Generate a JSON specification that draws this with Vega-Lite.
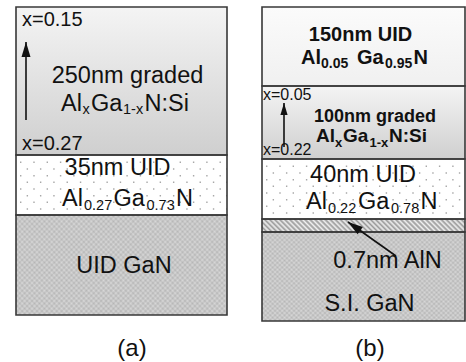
{
  "$schema": "https://vega.github.io/schema/vega-lite/v6.json",
  "width": 466,
  "height": 362,
  "padding": 0,
  "autosize": {"type": "fit", "contains": "padding"},
  "background": "white",
  "config": {"view": {"stroke": null}},
  "datasets": {
    "layers": [
      {"panel": "a", "name": "250nm graded AlGaN:Si", "kind": "graded", "x": 16, "x2": 227, "y": 7, "y2": 155},
      {"panel": "a", "name": "35nm UID Al0.27Ga0.73N", "kind": "dotted", "x": 16, "x2": 227, "y": 155, "y2": 215},
      {"panel": "a", "name": "UID GaN", "kind": "substrate", "x": 16, "x2": 227, "y": 215, "y2": 315},
      {"panel": "b", "name": "150nm UID Al0.05Ga0.95N", "kind": "plain", "x": 262, "x2": 465, "y": 7, "y2": 86},
      {"panel": "b", "name": "100nm graded AlGaN:Si", "kind": "graded", "x": 262, "x2": 465, "y": 86, "y2": 159},
      {"panel": "b", "name": "40nm UID Al0.22Ga0.78N", "kind": "dotted", "x": 262, "x2": 465, "y": 159, "y2": 219},
      {"panel": "b", "name": "0.7nm AlN", "kind": "interlayer", "x": 262, "x2": 465, "y": 219, "y2": 232},
      {"panel": "b", "name": "S.I. GaN", "kind": "substrate", "x": 262, "x2": 465, "y": 232, "y2": 321}
    ],
    "labels": [
      {"text": "x=0.15", "x": 22, "y": 26, "role": "noteA"},
      {"text": "250nm graded", "x": 127.5, "y": 83, "role": "name"},
      {"text": "Al", "x": 61, "y": 111, "role": "formula"},
      {"text": "x", "x": 82.5, "y": 114, "role": "formulaSub"},
      {"text": "Ga", "x": 91, "y": 111, "role": "formula"},
      {"text": "1-x", "x": 123, "y": 114, "role": "formulaSub"},
      {"text": "N:Si", "x": 144.5, "y": 111, "role": "formula"},
      {"text": "x=0.27", "x": 22, "y": 150, "role": "noteA"},
      {"text": "35nm UID", "x": 117.5, "y": 175, "role": "name"},
      {"text": "Al", "x": 62, "y": 206, "role": "formula"},
      {"text": "0.27", "x": 84, "y": 210, "role": "formulaSub"},
      {"text": "Ga", "x": 113.5, "y": 206, "role": "formula"},
      {"text": "0.73", "x": 146.5, "y": 210, "role": "formulaSub"},
      {"text": "N", "x": 176, "y": 206, "role": "formula"},
      {"text": "UID GaN", "x": 124, "y": 273, "role": "name"},
      {"text": "(a)", "x": 132, "y": 356, "role": "caption"},
      {"text": "150nm UID", "x": 360.5, "y": 41, "role": "boldTitle"},
      {"text": "Al", "x": 301, "y": 64, "role": "boldFormula"},
      {"text": "0.05", "x": 321, "y": 68, "role": "boldSub"},
      {"text": "Ga", "x": 357, "y": 64, "role": "boldFormula"},
      {"text": "0.95", "x": 385, "y": 68, "role": "boldSub"},
      {"text": "N", "x": 413.5, "y": 64, "role": "boldFormula"},
      {"text": "x=0.05", "x": 263, "y": 100, "role": "noteB"},
      {"text": "100nm graded", "x": 375, "y": 122, "role": "boldTitleSmall"},
      {"text": "Al", "x": 316, "y": 142, "role": "boldFormulaSmall"},
      {"text": "x", "x": 335, "y": 146.5, "role": "boldSubSmall"},
      {"text": "Ga", "x": 343, "y": 142, "role": "boldFormulaSmall"},
      {"text": "1-x", "x": 369.5, "y": 146.5, "role": "boldSubSmall"},
      {"text": "N:Si", "x": 389, "y": 142, "role": "boldFormulaSmall"},
      {"text": "x=0.22", "x": 263, "y": 155, "role": "noteB"},
      {"text": "40nm UID", "x": 363, "y": 182, "role": "name"},
      {"text": "Al", "x": 306, "y": 209, "role": "formula"},
      {"text": "0.22", "x": 328, "y": 213, "role": "formulaSub"},
      {"text": "Ga", "x": 358, "y": 209, "role": "formula"},
      {"text": "0.78", "x": 391, "y": 213, "role": "formulaSub"},
      {"text": "N", "x": 420.5, "y": 209, "role": "formula"},
      {"text": "0.7nm AlN", "x": 387.5, "y": 268, "role": "name"},
      {"text": "S.I. GaN", "x": 369.5, "y": 311, "role": "name"},
      {"text": "(b)", "x": 370, "y": 356, "role": "caption"}
    ],
    "arrows": [
      {"id": "gradingA", "x": 26, "y": 42, "x2": 26, "y2": 120},
      {"id": "gradingB", "x": 284, "y": 103, "x2": 284, "y2": 147},
      {"id": "interlayer", "x": 348, "y": 222, "x2": 396, "y2": 256}
    ]
  },
  "encoding": {
    "x": {"field": "x", "type": "quantitative", "scale": {"domain": [0, 466], "nice": false, "zero": false}, "axis": null},
    "y": {"field": "y", "type": "quantitative", "scale": {"domain": [0, 362], "nice": false, "zero": false, "reverse": true}, "axis": null}
  },
  "layer": [
    {
      "data": {"name": "layers"},
      "transform": [{"filter": "datum.kind === 'graded'"}],
      "mark": {"type": "rect", "fill": {"gradient": "linear", "x1": 0, "y1": 0, "x2": 0, "y2": 1, "stops": [{"offset": 0, "color": "#f4f4f4"}, {"offset": 1, "color": "#cfcfcf"}]}},
      "encoding": {"x2": {"field": "x2"}, "y2": {"field": "y2"}}
    },
    {
      "data": {"name": "layers"},
      "transform": [{"filter": "datum.kind === 'plain'"}],
      "mark": {"type": "rect", "fill": {"gradient": "linear", "x1": 0, "y1": 0, "x2": 0, "y2": 1, "stops": [{"offset": 0, "color": "#fbfbfb"}, {"offset": 1, "color": "#f0f0f0"}]}},
      "encoding": {"x2": {"field": "x2"}, "y2": {"field": "y2"}}
    },
    {
      "data": {"name": "layers"},
      "transform": [{"filter": "datum.kind === 'dotted'"}],
      "mark": {"type": "rect", "fill": "#ffffff"},
      "encoding": {"x2": {"field": "x2"}, "y2": {"field": "y2"}}
    },
    {
      "data": {"name": "layers"},
      "transform": [{"filter": "datum.kind === 'substrate'"}],
      "mark": {"type": "rect", "fill": {"gradient": "linear", "x1": 0, "y1": 0, "x2": 1.21, "y2": 0.552, "stops": [
        {"offset": 0, "color": "#b6b6b6"}, {"offset": 0.008, "color": "#d8d8d8"}, {"offset": 0.016, "color": "#b6b6b6"}, {"offset": 0.024, "color": "#d8d8d8"},
        {"offset": 0.032, "color": "#b6b6b6"}, {"offset": 0.04, "color": "#d8d8d8"}, {"offset": 0.048, "color": "#b6b6b6"}, {"offset": 0.056, "color": "#d8d8d8"},
        {"offset": 0.064, "color": "#b6b6b6"}, {"offset": 0.072, "color": "#d8d8d8"}, {"offset": 0.08, "color": "#b6b6b6"}, {"offset": 0.088, "color": "#d8d8d8"},
        {"offset": 0.096, "color": "#b6b6b6"}, {"offset": 0.104, "color": "#d8d8d8"}, {"offset": 0.112, "color": "#b6b6b6"}, {"offset": 0.12, "color": "#d8d8d8"},
        {"offset": 0.128, "color": "#b6b6b6"}, {"offset": 0.136, "color": "#d8d8d8"}, {"offset": 0.144, "color": "#b6b6b6"}, {"offset": 0.152, "color": "#d8d8d8"},
        {"offset": 0.16, "color": "#b6b6b6"}, {"offset": 0.168, "color": "#d8d8d8"}, {"offset": 0.176, "color": "#b6b6b6"}, {"offset": 0.184, "color": "#d8d8d8"},
        {"offset": 0.192, "color": "#b6b6b6"}, {"offset": 0.2, "color": "#d8d8d8"}, {"offset": 0.208, "color": "#b6b6b6"}, {"offset": 0.216, "color": "#d8d8d8"},
        {"offset": 0.224, "color": "#b6b6b6"}, {"offset": 0.232, "color": "#d8d8d8"}, {"offset": 0.24, "color": "#b6b6b6"}, {"offset": 0.248, "color": "#d8d8d8"},
        {"offset": 0.256, "color": "#b6b6b6"}, {"offset": 0.264, "color": "#d8d8d8"}, {"offset": 0.272, "color": "#b6b6b6"}, {"offset": 0.28, "color": "#d8d8d8"},
        {"offset": 0.288, "color": "#b6b6b6"}, {"offset": 0.296, "color": "#d8d8d8"}, {"offset": 0.304, "color": "#b6b6b6"}, {"offset": 0.312, "color": "#d8d8d8"},
        {"offset": 0.32, "color": "#b6b6b6"}, {"offset": 0.328, "color": "#d8d8d8"}, {"offset": 0.336, "color": "#b6b6b6"}, {"offset": 0.344, "color": "#d8d8d8"},
        {"offset": 0.352, "color": "#b6b6b6"}, {"offset": 0.36, "color": "#d8d8d8"}, {"offset": 0.368, "color": "#b6b6b6"}, {"offset": 0.376, "color": "#d8d8d8"},
        {"offset": 0.384, "color": "#b6b6b6"}, {"offset": 0.392, "color": "#d8d8d8"}, {"offset": 0.4, "color": "#b6b6b6"}, {"offset": 0.408, "color": "#d8d8d8"},
        {"offset": 0.416, "color": "#b6b6b6"}, {"offset": 0.424, "color": "#d8d8d8"}, {"offset": 0.432, "color": "#b6b6b6"}, {"offset": 0.44, "color": "#d8d8d8"},
        {"offset": 0.448, "color": "#b6b6b6"}, {"offset": 0.456, "color": "#d8d8d8"}, {"offset": 0.464, "color": "#b6b6b6"}, {"offset": 0.472, "color": "#d8d8d8"},
        {"offset": 0.48, "color": "#b6b6b6"}, {"offset": 0.488, "color": "#d8d8d8"}, {"offset": 0.496, "color": "#b6b6b6"}, {"offset": 0.504, "color": "#d8d8d8"},
        {"offset": 0.512, "color": "#b6b6b6"}, {"offset": 0.52, "color": "#d8d8d8"}, {"offset": 0.528, "color": "#b6b6b6"}, {"offset": 0.536, "color": "#d8d8d8"},
        {"offset": 0.544, "color": "#b6b6b6"}, {"offset": 0.552, "color": "#d8d8d8"}, {"offset": 0.56, "color": "#b6b6b6"}, {"offset": 0.568, "color": "#d8d8d8"},
        {"offset": 0.576, "color": "#b6b6b6"}, {"offset": 0.584, "color": "#d8d8d8"}, {"offset": 0.592, "color": "#b6b6b6"}, {"offset": 0.6, "color": "#d8d8d8"},
        {"offset": 0.608, "color": "#b6b6b6"}, {"offset": 0.616, "color": "#d8d8d8"}, {"offset": 0.624, "color": "#b6b6b6"}, {"offset": 0.632, "color": "#d8d8d8"},
        {"offset": 0.64, "color": "#b6b6b6"}, {"offset": 0.648, "color": "#d8d8d8"}, {"offset": 0.656, "color": "#b6b6b6"}, {"offset": 0.664, "color": "#d8d8d8"},
        {"offset": 0.672, "color": "#b6b6b6"}, {"offset": 0.68, "color": "#d8d8d8"}, {"offset": 0.688, "color": "#b6b6b6"}, {"offset": 0.696, "color": "#d8d8d8"},
        {"offset": 0.704, "color": "#b6b6b6"}, {"offset": 0.712, "color": "#d8d8d8"}, {"offset": 0.72, "color": "#b6b6b6"}, {"offset": 0.728, "color": "#d8d8d8"},
        {"offset": 0.736, "color": "#b6b6b6"}, {"offset": 0.744, "color": "#d8d8d8"}, {"offset": 0.752, "color": "#b6b6b6"}, {"offset": 0.76, "color": "#d8d8d8"},
        {"offset": 0.768, "color": "#b6b6b6"}, {"offset": 0.776, "color": "#d8d8d8"}, {"offset": 0.784, "color": "#b6b6b6"}, {"offset": 0.792, "color": "#d8d8d8"},
        {"offset": 0.8, "color": "#b6b6b6"}, {"offset": 0.808, "color": "#d8d8d8"}, {"offset": 0.816, "color": "#b6b6b6"}, {"offset": 0.824, "color": "#d8d8d8"},
        {"offset": 0.832, "color": "#b6b6b6"}, {"offset": 0.84, "color": "#d8d8d8"}, {"offset": 0.848, "color": "#b6b6b6"}, {"offset": 0.856, "color": "#d8d8d8"},
        {"offset": 0.864, "color": "#b6b6b6"}, {"offset": 0.872, "color": "#d8d8d8"}, {"offset": 0.88, "color": "#b6b6b6"}, {"offset": 0.888, "color": "#d8d8d8"},
        {"offset": 0.896, "color": "#b6b6b6"}, {"offset": 0.904, "color": "#d8d8d8"}, {"offset": 0.912, "color": "#b6b6b6"}, {"offset": 0.92, "color": "#d8d8d8"},
        {"offset": 0.928, "color": "#b6b6b6"}, {"offset": 0.936, "color": "#d8d8d8"}, {"offset": 0.944, "color": "#b6b6b6"}, {"offset": 0.952, "color": "#d8d8d8"},
        {"offset": 0.96, "color": "#b6b6b6"}, {"offset": 0.968, "color": "#d8d8d8"}, {"offset": 0.976, "color": "#b6b6b6"}, {"offset": 0.984, "color": "#d8d8d8"},
        {"offset": 0.992, "color": "#b6b6b6"}, {"offset": 1, "color": "#d8d8d8"}
      ]}},
      "encoding": {"x2": {"field": "x2"}, "y2": {"field": "y2"}}
    },
    {
      "data": {"name": "layers"},
      "transform": [{"filter": "datum.kind === 'substrate'"}],
      "mark": {"type": "rect", "fillOpacity": 0.5, "fill": {"gradient": "linear", "x1": 0, "y1": 1, "x2": 1.21, "y2": 0.448, "stops": [
        {"offset": 0, "color": "#b6b6b6"}, {"offset": 0.008, "color": "#d8d8d8"}, {"offset": 0.016, "color": "#b6b6b6"}, {"offset": 0.024, "color": "#d8d8d8"},
        {"offset": 0.032, "color": "#b6b6b6"}, {"offset": 0.04, "color": "#d8d8d8"}, {"offset": 0.048, "color": "#b6b6b6"}, {"offset": 0.056, "color": "#d8d8d8"},
        {"offset": 0.064, "color": "#b6b6b6"}, {"offset": 0.072, "color": "#d8d8d8"}, {"offset": 0.08, "color": "#b6b6b6"}, {"offset": 0.088, "color": "#d8d8d8"},
        {"offset": 0.096, "color": "#b6b6b6"}, {"offset": 0.104, "color": "#d8d8d8"}, {"offset": 0.112, "color": "#b6b6b6"}, {"offset": 0.12, "color": "#d8d8d8"},
        {"offset": 0.128, "color": "#b6b6b6"}, {"offset": 0.136, "color": "#d8d8d8"}, {"offset": 0.144, "color": "#b6b6b6"}, {"offset": 0.152, "color": "#d8d8d8"},
        {"offset": 0.16, "color": "#b6b6b6"}, {"offset": 0.168, "color": "#d8d8d8"}, {"offset": 0.176, "color": "#b6b6b6"}, {"offset": 0.184, "color": "#d8d8d8"},
        {"offset": 0.192, "color": "#b6b6b6"}, {"offset": 0.2, "color": "#d8d8d8"}, {"offset": 0.208, "color": "#b6b6b6"}, {"offset": 0.216, "color": "#d8d8d8"},
        {"offset": 0.224, "color": "#b6b6b6"}, {"offset": 0.232, "color": "#d8d8d8"}, {"offset": 0.24, "color": "#b6b6b6"}, {"offset": 0.248, "color": "#d8d8d8"},
        {"offset": 0.256, "color": "#b6b6b6"}, {"offset": 0.264, "color": "#d8d8d8"}, {"offset": 0.272, "color": "#b6b6b6"}, {"offset": 0.28, "color": "#d8d8d8"},
        {"offset": 0.288, "color": "#b6b6b6"}, {"offset": 0.296, "color": "#d8d8d8"}, {"offset": 0.304, "color": "#b6b6b6"}, {"offset": 0.312, "color": "#d8d8d8"},
        {"offset": 0.32, "color": "#b6b6b6"}, {"offset": 0.328, "color": "#d8d8d8"}, {"offset": 0.336, "color": "#b6b6b6"}, {"offset": 0.344, "color": "#d8d8d8"},
        {"offset": 0.352, "color": "#b6b6b6"}, {"offset": 0.36, "color": "#d8d8d8"}, {"offset": 0.368, "color": "#b6b6b6"}, {"offset": 0.376, "color": "#d8d8d8"},
        {"offset": 0.384, "color": "#b6b6b6"}, {"offset": 0.392, "color": "#d8d8d8"}, {"offset": 0.4, "color": "#b6b6b6"}, {"offset": 0.408, "color": "#d8d8d8"},
        {"offset": 0.416, "color": "#b6b6b6"}, {"offset": 0.424, "color": "#d8d8d8"}, {"offset": 0.432, "color": "#b6b6b6"}, {"offset": 0.44, "color": "#d8d8d8"},
        {"offset": 0.448, "color": "#b6b6b6"}, {"offset": 0.456, "color": "#d8d8d8"}, {"offset": 0.464, "color": "#b6b6b6"}, {"offset": 0.472, "color": "#d8d8d8"},
        {"offset": 0.48, "color": "#b6b6b6"}, {"offset": 0.488, "color": "#d8d8d8"}, {"offset": 0.496, "color": "#b6b6b6"}, {"offset": 0.504, "color": "#d8d8d8"},
        {"offset": 0.512, "color": "#b6b6b6"}, {"offset": 0.52, "color": "#d8d8d8"}, {"offset": 0.528, "color": "#b6b6b6"}, {"offset": 0.536, "color": "#d8d8d8"},
        {"offset": 0.544, "color": "#b6b6b6"}, {"offset": 0.552, "color": "#d8d8d8"}, {"offset": 0.56, "color": "#b6b6b6"}, {"offset": 0.568, "color": "#d8d8d8"},
        {"offset": 0.576, "color": "#b6b6b6"}, {"offset": 0.584, "color": "#d8d8d8"}, {"offset": 0.592, "color": "#b6b6b6"}, {"offset": 0.6, "color": "#d8d8d8"},
        {"offset": 0.608, "color": "#b6b6b6"}, {"offset": 0.616, "color": "#d8d8d8"}, {"offset": 0.624, "color": "#b6b6b6"}, {"offset": 0.632, "color": "#d8d8d8"},
        {"offset": 0.64, "color": "#b6b6b6"}, {"offset": 0.648, "color": "#d8d8d8"}, {"offset": 0.656, "color": "#b6b6b6"}, {"offset": 0.664, "color": "#d8d8d8"},
        {"offset": 0.672, "color": "#b6b6b6"}, {"offset": 0.68, "color": "#d8d8d8"}, {"offset": 0.688, "color": "#b6b6b6"}, {"offset": 0.696, "color": "#d8d8d8"},
        {"offset": 0.704, "color": "#b6b6b6"}, {"offset": 0.712, "color": "#d8d8d8"}, {"offset": 0.72, "color": "#b6b6b6"}, {"offset": 0.728, "color": "#d8d8d8"},
        {"offset": 0.736, "color": "#b6b6b6"}, {"offset": 0.744, "color": "#d8d8d8"}, {"offset": 0.752, "color": "#b6b6b6"}, {"offset": 0.76, "color": "#d8d8d8"},
        {"offset": 0.768, "color": "#b6b6b6"}, {"offset": 0.776, "color": "#d8d8d8"}, {"offset": 0.784, "color": "#b6b6b6"}, {"offset": 0.792, "color": "#d8d8d8"},
        {"offset": 0.8, "color": "#b6b6b6"}, {"offset": 0.808, "color": "#d8d8d8"}, {"offset": 0.816, "color": "#b6b6b6"}, {"offset": 0.824, "color": "#d8d8d8"},
        {"offset": 0.832, "color": "#b6b6b6"}, {"offset": 0.84, "color": "#d8d8d8"}, {"offset": 0.848, "color": "#b6b6b6"}, {"offset": 0.856, "color": "#d8d8d8"},
        {"offset": 0.864, "color": "#b6b6b6"}, {"offset": 0.872, "color": "#d8d8d8"}, {"offset": 0.88, "color": "#b6b6b6"}, {"offset": 0.888, "color": "#d8d8d8"},
        {"offset": 0.896, "color": "#b6b6b6"}, {"offset": 0.904, "color": "#d8d8d8"}, {"offset": 0.912, "color": "#b6b6b6"}, {"offset": 0.92, "color": "#d8d8d8"},
        {"offset": 0.928, "color": "#b6b6b6"}, {"offset": 0.936, "color": "#d8d8d8"}, {"offset": 0.944, "color": "#b6b6b6"}, {"offset": 0.952, "color": "#d8d8d8"},
        {"offset": 0.96, "color": "#b6b6b6"}, {"offset": 0.968, "color": "#d8d8d8"}, {"offset": 0.976, "color": "#b6b6b6"}, {"offset": 0.984, "color": "#d8d8d8"},
        {"offset": 0.992, "color": "#b6b6b6"}, {"offset": 1, "color": "#d8d8d8"}
      ]}},
      "encoding": {"x2": {"field": "x2"}, "y2": {"field": "y2"}}
    },
    {
      "data": {"name": "layers"},
      "transform": [{"filter": "datum.kind === 'interlayer'"}],
      "mark": {"type": "rect", "fill": {"gradient": "linear", "x1": 0, "y1": 1, "x2": 1.1, "y2": 0.9296, "stops": [
        {"offset": 0, "color": "#999999"}, {"offset": 0.01125, "color": "#f0f0f0"},
        {"offset": 0.0225, "color": "#999999"}, {"offset": 0.03375, "color": "#f0f0f0"},
        {"offset": 0.045, "color": "#999999"}, {"offset": 0.05625, "color": "#f0f0f0"},
        {"offset": 0.0675, "color": "#999999"}, {"offset": 0.07875, "color": "#f0f0f0"},
        {"offset": 0.09, "color": "#999999"}, {"offset": 0.10125, "color": "#f0f0f0"},
        {"offset": 0.1125, "color": "#999999"}, {"offset": 0.12375, "color": "#f0f0f0"},
        {"offset": 0.135, "color": "#999999"}, {"offset": 0.14625, "color": "#f0f0f0"},
        {"offset": 0.1575, "color": "#999999"}, {"offset": 0.16875, "color": "#f0f0f0"},
        {"offset": 0.18, "color": "#999999"}, {"offset": 0.19125, "color": "#f0f0f0"},
        {"offset": 0.2025, "color": "#999999"}, {"offset": 0.21375, "color": "#f0f0f0"},
        {"offset": 0.225, "color": "#999999"}, {"offset": 0.23625, "color": "#f0f0f0"},
        {"offset": 0.2475, "color": "#999999"}, {"offset": 0.25875, "color": "#f0f0f0"},
        {"offset": 0.27, "color": "#999999"}, {"offset": 0.28125, "color": "#f0f0f0"},
        {"offset": 0.2925, "color": "#999999"}, {"offset": 0.30375, "color": "#f0f0f0"},
        {"offset": 0.315, "color": "#999999"}, {"offset": 0.32625, "color": "#f0f0f0"},
        {"offset": 0.3375, "color": "#999999"}, {"offset": 0.34875, "color": "#f0f0f0"},
        {"offset": 0.36, "color": "#999999"}, {"offset": 0.37125, "color": "#f0f0f0"},
        {"offset": 0.3825, "color": "#999999"}, {"offset": 0.39375, "color": "#f0f0f0"},
        {"offset": 0.405, "color": "#999999"}, {"offset": 0.41625, "color": "#f0f0f0"},
        {"offset": 0.4275, "color": "#999999"}, {"offset": 0.43875, "color": "#f0f0f0"},
        {"offset": 0.45, "color": "#999999"}, {"offset": 0.46125, "color": "#f0f0f0"},
        {"offset": 0.4725, "color": "#999999"}, {"offset": 0.48375, "color": "#f0f0f0"},
        {"offset": 0.495, "color": "#999999"}, {"offset": 0.50625, "color": "#f0f0f0"},
        {"offset": 0.5175, "color": "#999999"}, {"offset": 0.52875, "color": "#f0f0f0"},
        {"offset": 0.54, "color": "#999999"}, {"offset": 0.55125, "color": "#f0f0f0"},
        {"offset": 0.5625, "color": "#999999"}, {"offset": 0.57375, "color": "#f0f0f0"},
        {"offset": 0.585, "color": "#999999"}, {"offset": 0.59625, "color": "#f0f0f0"},
        {"offset": 0.6075, "color": "#999999"}, {"offset": 0.61875, "color": "#f0f0f0"},
        {"offset": 0.63, "color": "#999999"}, {"offset": 0.64125, "color": "#f0f0f0"},
        {"offset": 0.6525, "color": "#999999"}, {"offset": 0.66375, "color": "#f0f0f0"},
        {"offset": 0.675, "color": "#999999"}, {"offset": 0.68625, "color": "#f0f0f0"},
        {"offset": 0.6975, "color": "#999999"}, {"offset": 0.70875, "color": "#f0f0f0"},
        {"offset": 0.72, "color": "#999999"}, {"offset": 0.73125, "color": "#f0f0f0"},
        {"offset": 0.7425, "color": "#999999"}, {"offset": 0.75375, "color": "#f0f0f0"},
        {"offset": 0.765, "color": "#999999"}, {"offset": 0.77625, "color": "#f0f0f0"},
        {"offset": 0.7875, "color": "#999999"}, {"offset": 0.79875, "color": "#f0f0f0"},
        {"offset": 0.81, "color": "#999999"}, {"offset": 0.82125, "color": "#f0f0f0"},
        {"offset": 0.8325, "color": "#999999"}, {"offset": 0.84375, "color": "#f0f0f0"},
        {"offset": 0.855, "color": "#999999"}, {"offset": 0.86625, "color": "#f0f0f0"},
        {"offset": 0.8775, "color": "#999999"}, {"offset": 0.88875, "color": "#f0f0f0"},
        {"offset": 0.9, "color": "#999999"}, {"offset": 0.91125, "color": "#f0f0f0"},
        {"offset": 0.9225, "color": "#999999"}, {"offset": 0.93375, "color": "#f0f0f0"},
        {"offset": 0.945, "color": "#999999"}, {"offset": 0.95625, "color": "#f0f0f0"},
        {"offset": 0.9675, "color": "#999999"}, {"offset": 0.97875, "color": "#f0f0f0"},
        {"offset": 0.99, "color": "#999999"}, {"offset": 1, "color": "#f0f0f0"}
      ]}},
      "encoding": {"x2": {"field": "x2"}, "y2": {"field": "y2"}}
    },
    {"data": {"name": "layers"}, "transform": [{"filter": "datum.kind === 'dotted'"}], "mark": {"type": "rule", "yOffset": 7.3, "strokeDash": [1.4, 11.9], "strokeDashOffset": 9.3, "color": "#a8a8a8", "strokeWidth": 1.4, "strokeCap": "butt"}, "encoding": {"x2": {"field": "x2"}}},
    {"data": {"name": "layers"}, "transform": [{"filter": "datum.kind === 'dotted'"}], "mark": {"type": "rule", "yOffset": 14, "strokeDash": [1.4, 11.9], "strokeDashOffset": 2.65, "color": "#a8a8a8", "strokeWidth": 1.4, "strokeCap": "butt"}, "encoding": {"x2": {"field": "x2"}}},
    {"data": {"name": "layers"}, "transform": [{"filter": "datum.kind === 'dotted'"}], "mark": {"type": "rule", "yOffset": 20.7, "strokeDash": [1.4, 11.9], "strokeDashOffset": 9.3, "color": "#a8a8a8", "strokeWidth": 1.4, "strokeCap": "butt"}, "encoding": {"x2": {"field": "x2"}}},
    {"data": {"name": "layers"}, "transform": [{"filter": "datum.kind === 'dotted'"}], "mark": {"type": "rule", "yOffset": 27.3, "strokeDash": [1.4, 11.9], "strokeDashOffset": 2.65, "color": "#a8a8a8", "strokeWidth": 1.4, "strokeCap": "butt"}, "encoding": {"x2": {"field": "x2"}}},
    {"data": {"name": "layers"}, "transform": [{"filter": "datum.kind === 'dotted'"}], "mark": {"type": "rule", "yOffset": 34, "strokeDash": [1.4, 11.9], "strokeDashOffset": 9.3, "color": "#a8a8a8", "strokeWidth": 1.4, "strokeCap": "butt"}, "encoding": {"x2": {"field": "x2"}}},
    {"data": {"name": "layers"}, "transform": [{"filter": "datum.kind === 'dotted'"}], "mark": {"type": "rule", "yOffset": 40.7, "strokeDash": [1.4, 11.9], "strokeDashOffset": 2.65, "color": "#a8a8a8", "strokeWidth": 1.4, "strokeCap": "butt"}, "encoding": {"x2": {"field": "x2"}}},
    {"data": {"name": "layers"}, "transform": [{"filter": "datum.kind === 'dotted'"}], "mark": {"type": "rule", "yOffset": 47.3, "strokeDash": [1.4, 11.9], "strokeDashOffset": 9.3, "color": "#a8a8a8", "strokeWidth": 1.4, "strokeCap": "butt"}, "encoding": {"x2": {"field": "x2"}}},
    {"data": {"name": "layers"}, "transform": [{"filter": "datum.kind === 'dotted'"}], "mark": {"type": "rule", "yOffset": 54, "strokeDash": [1.4, 11.9], "strokeDashOffset": 2.65, "color": "#a8a8a8", "strokeWidth": 1.4, "strokeCap": "butt"}, "encoding": {"x2": {"field": "x2"}}},
    {
      "data": {"name": "layers"},
      "mark": {"type": "rect", "filled": false, "stroke": "#383838", "strokeWidth": 1.6},
      "encoding": {"x2": {"field": "x2"}, "y2": {"field": "y2"}}
    },
    {
      "data": {"name": "arrows"},
      "mark": {"type": "rule", "color": "#111111", "strokeWidth": 1.6},
      "encoding": {"x2": {"field": "x2"}, "y2": {"field": "y2"}}
    },
    {
      "data": {"name": "arrows"},
      "transform": [{"filter": "datum.id === 'gradingA'"}],
      "mark": {"type": "point", "shape": "M0,0L0.6,2L-0.6,2Z", "filled": true, "size": 225, "angle": 0, "color": "#111111", "opacity": 1, "strokeWidth": 0}
    },
    {
      "data": {"name": "arrows"},
      "transform": [{"filter": "datum.id === 'gradingB'"}],
      "mark": {"type": "point", "shape": "M0,0L0.6,2L-0.6,2Z", "filled": true, "size": 144, "angle": 0, "color": "#111111", "opacity": 1, "strokeWidth": 0}
    },
    {
      "data": {"name": "arrows"},
      "transform": [{"filter": "datum.id === 'interlayer'"}],
      "mark": {"type": "point", "shape": "M0,0L0.6,2L-0.6,2Z", "filled": true, "size": 225, "angle": 305.3, "color": "#111111", "opacity": 1, "strokeWidth": 0}
    },
    {"data": {"name": "labels"}, "transform": [{"filter": "datum.role === 'name'"}], "mark": {"type": "text", "align": "center", "baseline": "alphabetic", "font": "Liberation Sans", "fontSize": 23.5, "color": "#111111"}, "encoding": {"text": {"field": "text"}}},
    {"data": {"name": "labels"}, "transform": [{"filter": "datum.role === 'caption'"}], "mark": {"type": "text", "align": "center", "baseline": "alphabetic", "font": "Liberation Sans", "fontSize": 24, "color": "#111111"}, "encoding": {"text": {"field": "text"}}},
    {"data": {"name": "labels"}, "transform": [{"filter": "datum.role === 'formula'"}], "mark": {"type": "text", "align": "left", "baseline": "alphabetic", "font": "Liberation Sans", "fontSize": 23.5, "color": "#111111"}, "encoding": {"text": {"field": "text"}}},
    {"data": {"name": "labels"}, "transform": [{"filter": "datum.role === 'formulaSub'"}], "mark": {"type": "text", "align": "left", "baseline": "alphabetic", "font": "Liberation Sans", "fontSize": 14.5, "color": "#111111"}, "encoding": {"text": {"field": "text"}}},
    {"data": {"name": "labels"}, "transform": [{"filter": "datum.role === 'noteA'"}], "mark": {"type": "text", "align": "left", "baseline": "alphabetic", "font": "Liberation Sans", "fontSize": 20, "color": "#111111"}, "encoding": {"text": {"field": "text"}}},
    {"data": {"name": "labels"}, "transform": [{"filter": "datum.role === 'noteB'"}], "mark": {"type": "text", "align": "left", "baseline": "alphabetic", "font": "Liberation Sans", "fontSize": 16, "color": "#111111"}, "encoding": {"text": {"field": "text"}}},
    {"data": {"name": "labels"}, "transform": [{"filter": "datum.role === 'boldTitle'"}], "mark": {"type": "text", "align": "center", "baseline": "alphabetic", "font": "Liberation Sans", "fontWeight": "bold", "fontSize": 20, "color": "#111111"}, "encoding": {"text": {"field": "text"}}},
    {"data": {"name": "labels"}, "transform": [{"filter": "datum.role === 'boldTitleSmall'"}], "mark": {"type": "text", "align": "center", "baseline": "alphabetic", "font": "Liberation Sans", "fontWeight": "bold", "fontSize": 18, "color": "#111111"}, "encoding": {"text": {"field": "text"}}},
    {"data": {"name": "labels"}, "transform": [{"filter": "datum.role === 'boldFormula'"}], "mark": {"type": "text", "align": "left", "baseline": "alphabetic", "font": "Liberation Sans", "fontWeight": "bold", "fontSize": 20, "color": "#111111"}, "encoding": {"text": {"field": "text"}}},
    {"data": {"name": "labels"}, "transform": [{"filter": "datum.role === 'boldFormulaSmall'"}], "mark": {"type": "text", "align": "left", "baseline": "alphabetic", "font": "Liberation Sans", "fontWeight": "bold", "fontSize": 19, "color": "#111111"}, "encoding": {"text": {"field": "text"}}},
    {"data": {"name": "labels"}, "transform": [{"filter": "datum.role === 'boldSub'"}], "mark": {"type": "text", "align": "left", "baseline": "alphabetic", "font": "Liberation Sans", "fontWeight": "bold", "fontSize": 14, "color": "#111111"}, "encoding": {"text": {"field": "text"}}},
    {"data": {"name": "labels"}, "transform": [{"filter": "datum.role === 'boldSubSmall'"}], "mark": {"type": "text", "align": "left", "baseline": "alphabetic", "font": "Liberation Sans", "fontWeight": "bold", "fontSize": 13, "color": "#111111"}, "encoding": {"text": {"field": "text"}}}
  ]
}
